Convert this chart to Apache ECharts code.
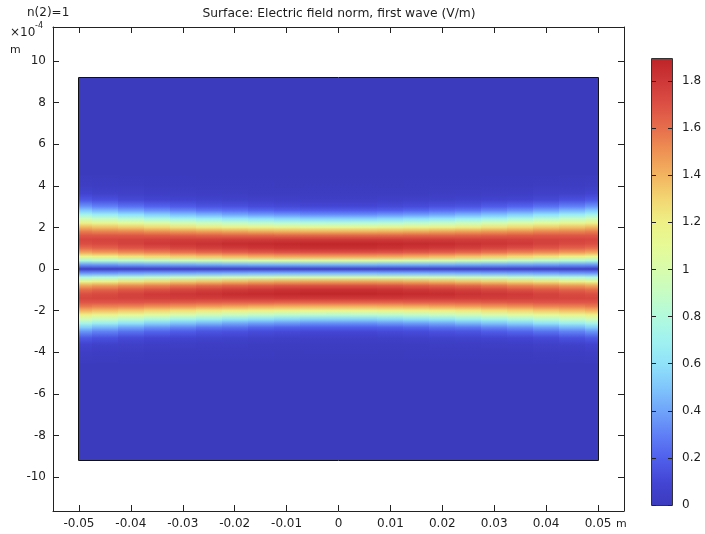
<!DOCTYPE html>
<html><head><meta charset="utf-8">
<script src="https://cdn.jsdelivr.net/npm/echarts@6/dist/echarts.min.js"></script>
<style>html,body{margin:0;padding:0;background:#fff}#c{width:705px;height:534px}</style>
</head><body><div id="c"></div>
<script>
// ---------- data ----------
// x positions (m) of the sampled field columns
const xCenters = [-0.05,-0.045,-0.04,-0.035,-0.03,-0.025,-0.02,-0.015,-0.01,-0.005,0,
                  0.005,0.01,0.015,0.02,0.025,0.03,0.035,0.04,0.045,0.05];
// |x| of each profile below (m)
const profileAbsX = [0,0.005,0.01,0.015,0.02,0.025,0.03,0.035,0.04,0.045,0.05];
// |y| sample positions (units of 1e-4 m); field is symmetric about y = 0
const yAbs = [0,0.2,0.4,0.6,0.8,1.0,1.2,1.4,1.6,1.8,2.0,2.2,2.4,2.6,2.8,3.0,3.3,3.6,4.0,4.5];
// electric field norm (V/m) along |y| for each |x|
const field_x000 = [0.03,0.45,1.00,1.45,1.70,1.84,1.88,1.80,1.63,1.40,1.12,0.82,0.55,0.34,0.19,0.10,0.04,0.015,0.005,0];
const field_x005 = [0.03,0.45,1.00,1.45,1.70,1.84,1.88,1.80,1.63,1.40,1.12,0.83,0.55,0.34,0.19,0.10,0.04,0.015,0.005,0];
const field_x010 = [0.03,0.44,0.99,1.44,1.69,1.83,1.87,1.80,1.63,1.41,1.14,0.84,0.57,0.36,0.20,0.11,0.045,0.017,0.006,0];
const field_x015 = [0.03,0.44,0.97,1.42,1.67,1.81,1.86,1.79,1.64,1.42,1.16,0.87,0.60,0.38,0.22,0.12,0.05,0.02,0.007,0];
const field_x020 = [0.03,0.43,0.96,1.39,1.65,1.79,1.85,1.79,1.64,1.44,1.18,0.90,0.63,0.41,0.25,0.14,0.06,0.023,0.008,0.001];
const field_x025 = [0.03,0.42,0.93,1.36,1.62,1.77,1.83,1.78,1.65,1.46,1.21,0.94,0.68,0.45,0.27,0.15,0.07,0.027,0.009,0.002];
const field_x030 = [0.03,0.41,0.91,1.33,1.59,1.74,1.81,1.78,1.66,1.48,1.25,0.99,0.72,0.49,0.31,0.18,0.08,0.032,0.011,0.003];
const field_x035 = [0.03,0.40,0.87,1.29,1.55,1.71,1.79,1.77,1.67,1.50,1.29,1.04,0.78,0.54,0.35,0.21,0.09,0.037,0.012,0.003];
const field_x040 = [0.03,0.39,0.84,1.25,1.52,1.68,1.76,1.76,1.68,1.53,1.33,1.09,0.84,0.60,0.40,0.25,0.11,0.05,0.014,0.004];
const field_x045 = [0.03,0.37,0.81,1.20,1.48,1.64,1.73,1.75,1.68,1.54,1.36,1.14,0.90,0.67,0.46,0.30,0.14,0.06,0.021,0.006];
const field_x050 = [0.03,0.36,0.78,1.16,1.44,1.61,1.71,1.74,1.68,1.56,1.39,1.19,0.96,0.73,0.52,0.35,0.17,0.08,0.028,0.008];
const profiles = [field_x000,field_x005,field_x010,field_x015,field_x020,field_x025,
                  field_x030,field_x035,field_x040,field_x045,field_x050];
// field value outside the beam
const backgroundField = 0;
// geometry domain (x in m, y in 1e-4 m)
const domainX = [-0.05, 0.05];
const domainY = [-9.2, 9.2];
const fieldMin = 0, fieldMax = 1.893;
// tick labels
const xTickValues = [-0.05,-0.04,-0.03,-0.02,-0.01,0,0.01,0.02,0.03,0.04,0.05];
const yTickValues = [-10,-8,-6,-4,-2,0,2,4,6,8,10];
const cbTickValues = [0,0.2,0.4,0.6,0.8,1,1.2,1.4,1.6,1.8];
const titleText = 'Surface: Electric field norm, first wave (V/m)';
const paramText = 'n(2)=1';

// ---------- style ----------
const FONT = 'DejaVu Sans';
const TXT = '#1e1e1e';
const LINE = '#222';
const CMAP = [
  [0.00,[59,59,190]],[0.10,[68,70,212]],[0.20,[80,96,236]],[0.30,[96,128,246]],
  [0.40,[112,164,250]],[0.50,[128,198,252]],[0.60,[144,226,250]],[0.70,[160,242,240]],
  [0.80,[178,250,220]],[0.90,[198,252,196]],[1.00,[216,252,172]],[1.10,[230,250,150]],
  [1.20,[238,240,134]],[1.30,[242,214,114]],[1.40,[242,180,96]],[1.50,[238,146,84]],
  [1.60,[230,110,76]],[1.70,[220,80,68]],[1.80,[206,56,56]],[1.893,[190,36,40]]
];
function cmap(v){
  if (v <= CMAP[0][0]) return rgb(CMAP[0][1]);
  for (let i=1;i<CMAP.length;i++){
    if (v <= CMAP[i][0]){
      const a=CMAP[i-1], b=CMAP[i], t=(v-a[0])/(b[0]-a[0]);
      return rgb([0,1,2].map(j=>a[1][j]+(b[1][j]-a[1][j])*t));
    }
  }
  return rgb(CMAP[CMAP.length-1][1]);
}
function rgb(c){return 'rgb('+c.map(x=>Math.round(x)).join(',')+')';}

// columns: edges halfway between sampled x positions
const columnData = xCenters.map((xc,i)=>{
  const x0 = i===0 ? domainX[0] : (xCenters[i-1]+xc)/2;
  const x1 = i===xCenters.length-1 ? domainX[1] : (xCenters[i+1]+xc)/2;
  const k = profileAbsX.findIndex(a=>Math.abs(a-Math.abs(xc))<1e-9);
  return [x0,x1,k];
});
const yTop = yAbs[yAbs.length-1];

function renderColumn(params, api){
  const x0=api.value(0), x1=api.value(1), k=api.value(2);
  const prof = profiles[k];
  const pTL = api.coord([x0, yTop]);
  const pBR = api.coord([x1, -yTop]);
  const H = 2*yTop;
  const stops = [];
  for (let i=yAbs.length-1;i>=0;i--) stops.push({offset:(yTop-yAbs[i])/H,color:cmap(prof[i])});
  for (let i=1;i<yAbs.length;i++) stops.push({offset:(yTop+yAbs[i])/H,color:cmap(prof[i])});
  const L = Math.round(pTL[0]), R = Math.round(pBR[0]);
  const T = Math.round(pTL[1]), B = Math.round(pBR[1]);
  return {type:'rect', shape:{x:L, y:T, width:R-L, height:B-T},
    style:{fill:{type:'linear',x:0,y:0,x2:0,y2:1,colorStops:stops}}};
}
function renderDomain(params, api){
  const pTL = api.coord([domainX[0], domainY[1]]);
  const pBR = api.coord([domainX[1], domainY[0]]);
  const L = Math.round(pTL[0]), R = Math.round(pBR[0]), T = Math.round(pTL[1]), B = Math.round(pBR[1]);
  return {type:'rect', shape:{x:L, y:T, width:R-L, height:B-T}, style:{fill:cmap(backgroundField)}};
}
function renderBorder(params, api){
  const pTL = api.coord([domainX[0], domainY[1]]);
  const pBR = api.coord([domainX[1], domainY[0]]);
  const L = Math.round(pTL[0]), R = Math.round(pBR[0]), T = Math.round(pTL[1]), B = Math.round(pBR[1]);
  return {type:'rect', shape:{x:L-0.5, y:T-0.5, width:R-L+1, height:B-T+1},
    style:{fill:null, stroke:'#111', lineWidth:1}};
}
function renderColorbar(params, api){
  const pTL = api.coord([0, fieldMax]);
  const pBR = api.coord([1, fieldMin]);
  const stops = CMAP.map(s=>({offset:1-(s[0]-fieldMin)/(fieldMax-fieldMin), color:rgb(s[1])})).reverse();
  const L = Math.round(pTL[0]), R = Math.round(pBR[0]), T = Math.round(pTL[1]), B = Math.round(pBR[1]);
  return {type:'group', children:[
    {type:'rect', shape:{x:L,y:T,width:R-L,height:B-T},
      style:{fill:{type:'linear',x:0,y:0,x2:0,y2:1,colorStops:stops}}},
    {type:'rect', shape:{x:L-0.5,y:T-0.5,width:R-L+1,height:B-T+1},
      style:{fill:null,stroke:'#333',lineWidth:1}, z2:10}
  ]};
}

const axisBase = (extra)=>Object.assign({
  type:'value', splitLine:{show:false},
  axisLine:{show:true,onZero:false,lineStyle:{color:LINE,width:1}},
  axisLabel:{show:false}
}, extra);

const chart = echarts.init(document.getElementById('c'), null, {renderer:'canvas'});
chart.setOption({
  animation:false,
  backgroundColor:'#fff',
  textStyle:{fontFamily:FONT},
  grid:[
    {left:53, top:27, width:571, height:484},
    {left:652, top:59, width:20, height:446}
  ],
  xAxis:[
    axisBase({gridIndex:0, position:'bottom', min:-0.055, max:0.055,
      axisTick:{inside:true,length:6,customValues:xTickValues,lineStyle:{color:LINE}},
      axisLabel:{show:true,customValues:xTickValues,margin:7,fontSize:12,color:TXT,fontFamily:FONT,
        formatter:v=>String(v)}}),
    axisBase({gridIndex:0, position:'top', min:-0.055, max:0.055,
      axisTick:{inside:true,length:6,customValues:xTickValues,lineStyle:{color:LINE}}}),
    {gridIndex:1, type:'value', min:0, max:1, show:false}
  ],
  yAxis:[
    axisBase({gridIndex:0, position:'left', min:-11.63, max:11.63,
      axisTick:{inside:true,length:6,customValues:yTickValues,lineStyle:{color:LINE}},
      axisLabel:{show:true,customValues:yTickValues,margin:7,fontSize:12,color:TXT,fontFamily:FONT,
        formatter:v=>String(v)}}),
    axisBase({gridIndex:0, position:'right', min:-11.63, max:11.63,
      axisTick:{inside:true,length:6,customValues:yTickValues,lineStyle:{color:LINE}}}),
    axisBase({gridIndex:1, position:'right', min:fieldMin, max:fieldMax, z:10,
      axisLine:{show:false,onZero:false},
      axisTick:{inside:true,length:4,customValues:cbTickValues,lineStyle:{color:LINE}},
      axisLabel:{show:true,customValues:cbTickValues,margin:10,fontSize:12,color:TXT,fontFamily:FONT,
        formatter:v=>String(v)}}),
    axisBase({gridIndex:1, position:'left', min:fieldMin, max:fieldMax, z:10,
      axisLine:{show:false,onZero:false},
      axisTick:{inside:true,length:4,customValues:cbTickValues,lineStyle:{color:LINE}}})
  ],
  series:[
    {type:'custom', xAxisIndex:0, yAxisIndex:0, renderItem:renderDomain, data:[[0]], silent:true, z:1},
    {type:'custom', xAxisIndex:0, yAxisIndex:0, renderItem:renderColumn, data:columnData,
      encode:{x:[0,1]}, clip:false, silent:true, z:2},
    {type:'custom', xAxisIndex:0, yAxisIndex:0, renderItem:renderBorder, data:[[0]], silent:true, z:3},
    {type:'custom', xAxisIndex:2, yAxisIndex:2, renderItem:renderColorbar, data:[[0]], silent:true, z:2}
  ],
  graphic:[
    {type:'text', left:27, top:7, style:{text:paramText, font:'12px "DejaVu Sans"', fill:TXT}},
    {type:'text', x:339, y:14, style:{text:titleText, font:'12.3px "DejaVu Sans"', fill:TXT, textAlign:'center', textVerticalAlign:'middle'}},
    {type:'text', x:10, y:33, style:{text:'×10', font:'12px "DejaVu Sans"', fill:TXT, textVerticalAlign:'middle'}},
    {type:'text', x:35, y:26, style:{text:'-4', font:'8px "DejaVu Sans"', fill:TXT, textVerticalAlign:'middle'}},
    {type:'text', x:10, y:50, style:{text:'m', font:'11px "DejaVu Sans"', fill:TXT, textVerticalAlign:'middle'}},
    {type:'text', x:616, y:524, style:{text:'m', font:'11px "DejaVu Sans"', fill:TXT, textVerticalAlign:'middle'}}
  ]
});
</script>
</body></html>
